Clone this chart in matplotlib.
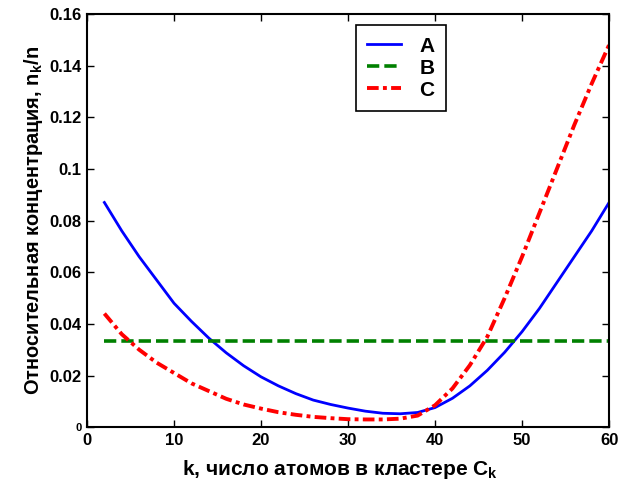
import matplotlib
matplotlib.use("Agg")
import matplotlib.pyplot as plt

k = [2, 4, 6, 8, 10, 12, 14, 16, 18, 20, 22, 24, 26, 28, 30,
     32, 34, 36, 38, 40, 42, 44, 46, 48, 50, 52, 54, 56, 58, 60]
series_a = [0.087, 0.076, 0.066, 0.057, 0.048, 0.041, 0.0345, 0.0288, 0.0238, 0.0195,
            0.016, 0.013, 0.0105, 0.0088, 0.0074, 0.0062, 0.0054, 0.0052, 0.0057, 0.0076,
            0.0112, 0.016, 0.022, 0.029, 0.037, 0.046, 0.056, 0.066, 0.076, 0.087]
series_b = [0.0333] * len(k)
series_c = [0.044, 0.036, 0.030, 0.025, 0.021, 0.017, 0.014, 0.011, 0.0088, 0.0072,
            0.0058, 0.0048, 0.0040, 0.0035, 0.0031, 0.0030, 0.0030, 0.0033, 0.0045, 0.0085,
            0.015, 0.024, 0.035, 0.050, 0.066, 0.083, 0.100, 0.117, 0.133, 0.148]
labels = ["A", "B", "C"]
xticks = [0, 10, 20, 30, 40, 50, 60]
yticks = [0, 0.02, 0.04, 0.06, 0.08, 0.1, 0.12, 0.14, 0.16]
ytick_labels = ["0", "0.02", "0.04", "0.06", "0.08", "0.1", "0.12", "0.14", "0.16"]

plt.rcParams['font.family'] = ['Liberation Sans', 'DejaVu Sans']
plt.rcParams['font.weight'] = 'bold'

fig = plt.figure(figsize=(6.19, 4.8), dpi=100)
ax = fig.add_axes([0.1405, 0.110, 0.8435, 0.861])

ax.plot(k, series_a, color='#0000ff', lw=2.0, label=labels[0])
ax.plot(k, series_b, color='#008000', lw=2.6, ls=(0, (3.4, 1.4)), label=labels[1])
ax.plot(k, series_c, color='#ff0000', lw=2.8, ls=(0, (3.0, 1.1, 1.0, 1.1)), label=labels[2])

ax.set_xlim(0, 60)
ax.set_ylim(0, 0.16)
ax.set_xticks(xticks)
ax.set_xticklabels([str(t) for t in xticks], fontsize=12, fontweight='bold')
ax.set_yticks(yticks)
ax.set_yticklabels(ytick_labels, fontsize=12, fontweight='bold')
ax.get_yticklabels()[0].set_fontsize(8)
ax.tick_params(direction='in', top=True, right=True, length=5, width=1, pad=4)
for s in ax.spines.values():
    s.set_linewidth(1.5)

ax.set_xlabel("k, число атомов в кластере C$_\\mathregular{k}$", fontsize=15, fontweight='bold', labelpad=5)
ax.xaxis.set_label_coords(0.484, -0.075)
ax.set_ylabel("Относительная концентрация, n$_\\mathregular{k}$/n", fontsize=14.4, fontweight='bold', labelpad=3)

leg = ax.legend(loc='upper left', bbox_to_anchor=(0.515, 0.973), prop={'size': 15, 'weight': 'bold'},
                fancybox=False, edgecolor='black', framealpha=1, handlelength=1.6,
                borderpad=0.55, labelspacing=0.15, handletextpad=0.9, borderaxespad=0)
leg.get_frame().set_linewidth(1.2)

fig.savefig("out.png", dpi=100)
